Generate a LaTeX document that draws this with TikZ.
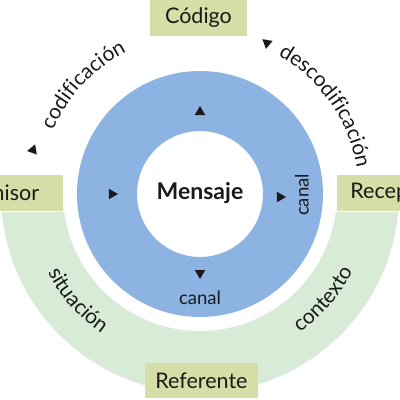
\documentclass[tikz,border=0pt]{standalone}
\usepackage{fontspec}
\setmainfont{Lato}
\usetikzlibrary{shapes.geometric,decorations.text}
\definecolor{boxkhaki}{RGB}{214,221,166}
\definecolor{ringblue}{RGB}{141,179,226}
\definecolor{ringgreen}{RGB}{216,235,214}
\definecolor{ink}{RGB}{26,26,26}
\newcommand{\arcfont}{\fontsize{21}{21}\selectfont\color{ink}}

\begin{document}
\begin{tikzpicture}[x=1pt,y=1pt,
  box/.style={fill=boxkhaki, minimum width=112pt, minimum height=36pt, inner sep=0pt, text=ink, font=\fontsize{21.5}{21.5}\selectfont},
  tri/.style={isosceles triangle, isosceles triangle apex angle=60, fill=ink, inner sep=0pt, minimum size=9pt},
  lbl/.style={text=ink, font=\fontsize{18.5}{18.5}\selectfont},
  arclbl/.style={decorate, decoration={text along path, text align=center, text={|\arcfont|#1}}}]
\useasboundingbox (-200,-206) rectangle (200,194);

\begin{scope}
\clip (-200,-18) rectangle (200,-206);
\fill [ringgreen, even odd rule] (0,0) circle (199) (0,0) circle (137);
\end{scope}
\fill [ringblue, even odd rule] (0,0) circle (123) (0,0) circle (63);

\node [box, minimum width=97pt] (codigo) at (-1.5,176) {Código};
\node [box, minimum width=113pt, minimum height=35pt] (referente) at (1.5,-186.5) {Referente};
\node [box] (emisor) at (-193,1) {Emisor};
\node [box] (receptor) at (193,1) {Receptor};

\node [text=ink, font=\fontsize{23}{23}\selectfont\bfseries] (mensaje) at (0,1) {Mensaje};
\node [lbl, rotate=90] (canalder) at (102,-1) {canal};
\node [lbl] (canalabajo) at (0,-104) {canal};

\node [tri, rotate=90] (triarriba) at (0,82) {};
\node [tri] (triizq) at (-88,0) {};
\node [tri] (trider) at (80,-3) {};
\node [tri, rotate=-90] (triabajo) at (0,-79) {};
\node [tri, rotate=190] (tricodif) at (-167,44) {};
\node [tri, rotate=-100] (tridescod) at (67,151) {};

\path [arclbl=codificación] (177:160) arc [start angle=177, end angle=97, radius=160];
\path [arclbl=descodificación] (75:159) arc [start angle=75, end angle=-5, radius=159];
\path [arclbl=situación] (181:171) arc [start angle=181, end angle=261, radius=171];
\path [arclbl=contexto] (279.5:171) arc [start angle=279.5, end angle=359.5, radius=171];
\end{tikzpicture}
\end{document}
